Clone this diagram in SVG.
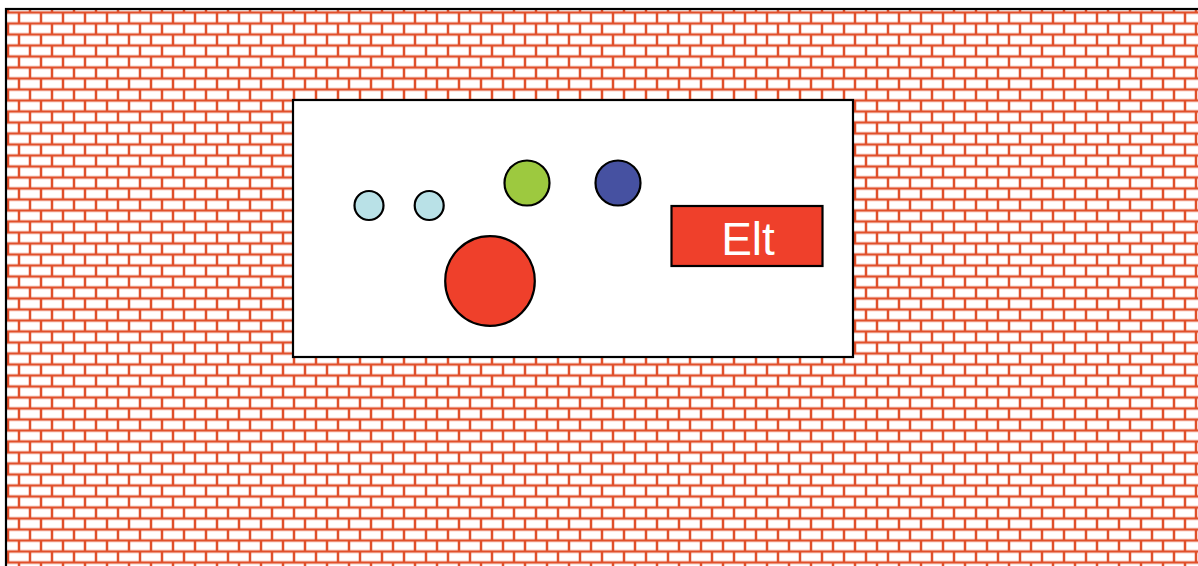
<svg xmlns="http://www.w3.org/2000/svg" width="1198" height="566" viewBox="0 0 1198 566">
  <defs>
    <pattern id="bricks" patternUnits="userSpaceOnUse" x="8" y="1.5" width="22" height="22">
      <rect x="0" y="0" width="22" height="22" fill="#ffffff"/>
      <g stroke="#e0502b" stroke-width="2.5" fill="none">
        <line x1="-1" y1="0" x2="23" y2="0"/>
        <line x1="-1" y1="11" x2="23" y2="11"/>
        <line x1="-1" y1="22" x2="23" y2="22"/>
        <line x1="0" y1="-1" x2="0" y2="12"/>
        <line x1="22" y1="-1" x2="22" y2="12"/>
        <line x1="11" y1="10" x2="11" y2="23"/>
      </g>
    </pattern>
  </defs>
  <style>
    .edge { stroke: #000000; stroke-width: 2.2; }
    .label { font-family: "Liberation Sans", Arial, sans-serif; font-size: 46px; fill: #ffffff; text-anchor: middle; }
  </style>
  <rect width="1198" height="566" fill="#ffffff"/>
  <g id="wall">
    <rect x="6" y="9" width="1220" height="600" fill="url(#bricks)" class="edge"/>
  </g>
  <g id="panel">
    <rect x="293" y="100" width="560" height="257" fill="#ffffff" class="edge"/>
  </g>
  <g id="small-circle-1">
    <circle cx="369" cy="205.5" r="14.5" fill="#b9e1e7" class="edge"/>
  </g>
  <g id="small-circle-2">
    <circle cx="429.2" cy="205.5" r="14.5" fill="#b9e1e7" class="edge"/>
  </g>
  <g id="green-circle">
    <circle cx="527" cy="183" r="22.5" fill="#9dc93f" class="edge"/>
  </g>
  <g id="blue-circle">
    <circle cx="618" cy="183" r="22.5" fill="#4651a1" class="edge"/>
  </g>
  <g id="red-circle">
    <circle cx="490" cy="281" r="44.8" fill="#ef402b" class="edge"/>
  </g>
  <g id="elt">
    <rect x="671.5" y="206" width="151" height="60" fill="#ef402b" class="edge"/>
    <text x="748" y="255" class="label">Elt</text>
  </g>
</svg>
